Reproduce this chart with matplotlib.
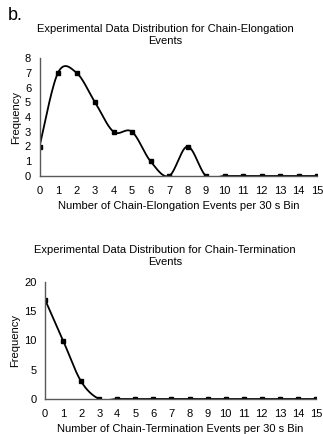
import numpy as np
import matplotlib.pyplot as plt

plt.rcParams["font.family"] = ["Liberation Sans", "DejaVu Sans"]

# data
bins = list(range(16))
elong_freq = [2, 7, 7, 5, 3, 3, 1, 0, 2, 0, 0, 0, 0, 0, 0, 0]
term_freq = [17, 10, 3, 0, 0, 0, 0, 0, 0, 0, 0, 0, 0, 0, 0, 0]

elong_title = "Experimental Data Distribution for Chain-Elongation\nEvents"
term_title = "Experimental Data Distribution for Chain-Termination\nEvents"
elong_xlabel = "Number of Chain-Elongation Events per 30 s Bin"
term_xlabel = "Number of Chain-Termination Events per 30 s Bin"
elong_yticks = [0, 1, 2, 3, 4, 5, 6, 7, 8]
term_yticks = [0, 5, 10, 15, 20]

AXIS_COLOR = "#595959"
FS = 8.0


def smooth_curve(x, y, n=30):
    # Excel style smoothed line (Catmull-Rom through the points)
    x = np.asarray(x, float)
    y = np.asarray(y, float)
    px = np.concatenate([[x[0]], x, [x[-1]]])
    py = np.concatenate([[y[0]], y, [y[-1]]])
    xs, ys = [], []
    t = np.linspace(0, 1, n)
    for i in range(1, len(px) - 2):
        p0, p1, p2, p3 = [np.array([px[j], py[j]]) for j in (i - 1, i, i + 1, i + 2)]
        c1 = p1 + (p2 - p0) / 6.0
        c2 = p2 - (p3 - p1) / 6.0
        b = ((1 - t) ** 3)[:, None] * p1 + (3 * (1 - t) ** 2 * t)[:, None] * c1 \
            + (3 * (1 - t) * t ** 2)[:, None] * c2 + (t ** 3)[:, None] * p2
        xs.extend(b[:, 0])
        ys.extend(b[:, 1])
    return np.array(xs), np.array(ys)


def draw_panel(ax, y, ymax, yticks, xlabel):
    sx, sy = smooth_curve(bins, y)
    ax.plot(sx, sy, color="black", lw=1.3)
    ax.plot(bins, y, linestyle="none", marker="s", markersize=2.2, color="black")
    ax.set_xlim(0, 15)
    ax.set_ylim(0, ymax)
    ax.set_xticks(bins)
    ax.set_yticks(yticks)
    ax.tick_params(axis="x", length=0, labelsize=FS, colors="black", pad=7)
    ax.tick_params(axis="y", length=0, labelsize=FS, colors="black", pad=6)
    for side in ("top", "right"):
        ax.spines[side].set_visible(False)
    for side in ("left", "bottom"):
        ax.spines[side].set_color(AXIS_COLOR)
        ax.spines[side].set_linewidth(1.0)
    ax.set_xlabel(xlabel, fontsize=FS, labelpad=4)
    ax.set_ylabel("Frequency", fontsize=FS, labelpad=3)


fig = plt.figure(figsize=(3.23, 4.34), dpi=100)

ax1 = fig.add_axes([39.5 / 323, 1 - 176 / 434, (317 - 39.5) / 323, (176 - 58) / 434])
draw_panel(ax1, elong_freq, 8, elong_yticks, elong_xlabel)

ax2 = fig.add_axes([45 / 323, 1 - 399 / 434, (316 - 45) / 323, (399 - 282) / 434])
draw_panel(ax2, term_freq, 20, term_yticks, term_xlabel)

fig.text(165 / 323, 1 - 35 / 434, elong_title, ha="center", va="center", fontsize=FS, linespacing=1.15)
fig.text(165 / 323, 1 - 256 / 434, term_title, ha="center", va="center", fontsize=FS, linespacing=1.15)
fig.text(8 / 323, 1 - 15 / 434, "b.", ha="left", va="center", fontsize=13)

fig.savefig("out.png", dpi=100)
